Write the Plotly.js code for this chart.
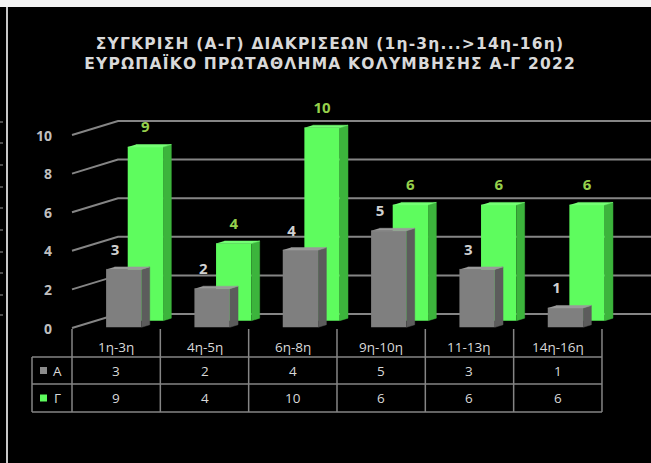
<!DOCTYPE html>
<html>
<head>
<meta charset="utf-8">
<script src="https://cdn.plot.ly/plotly-3.0.1.min.js"></script>
<style>html,body{margin:0;padding:0;background:#000;}#chart{width:651px;height:463px;}
.gtitle{letter-spacing:1.2px;}</style>
</head>
<body>
<div id="chart"></div>
<script>
// ---- data ----
const categories = ['1η-3η', '4η-5η', '6η-8η', '9η-10η', '11-13η', '14η-16η'];
const seriesA = [3, 2, 4, 5, 3, 1];
const seriesG = [9, 4, 10, 6, 6, 6];
const seriesNames = ['Α', 'Γ'];
const yTicks = [0, 2, 4, 6, 8, 10];
const titleLines = ['ΣΥΓΚΡΙΣΗ (Α-Γ) ΔΙΑΚΡΙΣΕΩΝ (1η-3η...>14η-16η)', 'ΕΥΡΩΠΑΪΚΟ ΠΡΩΤΑΘΛΗΜΑ ΚΟΛΥΜΒΗΣΗΣ Α-Γ 2022'];

// ---- geometry / styling ----
const W = 651, H = 463;
const PX_L = 72, UX = 88.33, PY0 = 328, UY = 19.3;
const xd = px => (px - PX_L) / UX - 0.5;
const yd = py => (PY0 - py) / UY;
const yp = py => 1 - py / H;
const DX = 46 / UX, DY = 14 / UY;      // depth vector (data units)
const XL = -0.14, BW = 0.40, BD = 0.18;
const DS_A = 0.05, DS_G = 0.52;
const FONT = 'Open Sans';
const P = (x, v, d) => [x + d * DX, v + d * DY];

function faces(vals, ds) {
  const side = {x: [], y: []}, top = {x: [], y: []};
  vals.forEach((v, i) => {
    const x0 = i + XL, x1 = x0 + BW;
    [P(x1, 0, ds), P(x1, 0, ds + BD), P(x1, v, ds + BD), P(x1, v, ds)].forEach(p => { side.x.push(p[0]); side.y.push(p[1]); });
    side.x.push(null); side.y.push(null);
    [P(x0, v, ds), P(x1, v, ds), P(x1, v, ds + BD), P(x0, v, ds + BD)].forEach(p => { top.x.push(p[0]); top.y.push(p[1]); });
    top.x.push(null); top.y.push(null);
  });
  return {side, top};
}

function seriesTraces(vals, ds, cFront, cSide, cTop, cLabel, labelShift) {
  const idx = vals.map((_, i) => i);
  const f = faces(vals, ds);
  return [
    {type: 'bar', x: idx.map(i => i + XL + BW / 2 + ds * DX), y: vals, base: ds * DY, width: BW,
     marker: {color: cFront, line: {width: 0}}, hoverinfo: 'skip', showlegend: false},
    {type: 'scatter', mode: 'lines', x: f.side.x, y: f.side.y, fill: 'toself', fillcolor: cSide,
     line: {color: cSide, width: 0.5}, hoverinfo: 'skip', showlegend: false},
    {type: 'scatter', mode: 'lines', x: f.top.x, y: f.top.y, fill: 'toself', fillcolor: cTop,
     line: {color: cTop, width: 0.5}, hoverinfo: 'skip', showlegend: false},
    {type: 'scatter', mode: 'text', x: idx.map(i => i + XL + BW / 2 + ds * DX + labelShift),
     y: vals.map(v => v + ds * DY + 0.95), text: vals.map(String), textposition: 'middle center',
     textfont: {family: FONT, size: 15, color: cLabel, weight: 'bold'}, hoverinfo: 'skip', showlegend: false}
  ];
}

const data = [].concat(
  seriesTraces(seriesG, DS_G, '#5efc5e', '#3cb43c', '#74ff74', '#96d04c', 0),
  seriesTraces(seriesA, DS_A, '#7f7f7f', '#5c5c5c', '#9a9a9a', '#d0d0d0', -0.1)
);

const shapes = [];
const annotations = [];
const grid = '#858585';
const n = categories.length;

// gridlines (floor side + back wall)
yTicks.forEach(t => {
  shapes.push({type: 'path', layer: 'below', xref: 'x', yref: 'y',
    path: `M ${-0.5} ${t} L ${-0.5 + DX} ${t + DY} L ${n - 0.5 + DX + 0.05} ${t + DY}`,
    line: {color: grid, width: 2}});
  annotations.push({x: xd(54), y: t, xref: 'x', yref: 'y', text: String(t), showarrow: false,
    xanchor: 'right', yanchor: 'middle', font: {family: FONT, size: 14, color: '#bfbfbf', weight: 'bold'}});
});

// table
const tRows = [357, 384, 412];
const tLeft = xd(32);
for (let k = 0; k <= n; k++) {
  shapes.push({type: 'line', xref: 'x', yref: 'paper', x0: k - 0.5, x1: k - 0.5, y0: yp(329), y1: yp(412),
    line: {color: grid, width: 1.5}});
}
tRows.forEach(r => shapes.push({type: 'line', xref: 'x', yref: 'paper', x0: tLeft, x1: n - 0.5, y0: yp(r), y1: yp(r),
  line: {color: grid, width: 1.5}}));
shapes.push({type: 'line', xref: 'x', yref: 'paper', x0: tLeft, x1: tLeft, y0: yp(357), y1: yp(412), line: {color: grid, width: 1.5}});

const cellFont = {family: FONT, size: 13.5, color: '#d9d9d9'};
categories.forEach((c, i) => {
  annotations.push({x: i, y: yp(347), xref: 'x', yref: 'paper', text: c, showarrow: false, yanchor: 'middle', font: cellFont});
  annotations.push({x: i, y: yp(370.5), xref: 'x', yref: 'paper', text: String(seriesA[i]), showarrow: false, yanchor: 'middle', font: cellFont});
  annotations.push({x: i, y: yp(398), xref: 'x', yref: 'paper', text: String(seriesG[i]), showarrow: false, yanchor: 'middle', font: cellFont});
});
// legend keys in table
[[370.5, '#8c8c8c', seriesNames[0]], [398, '#5efc5e', seriesNames[1]]].forEach(([py, col, name]) => {
  shapes.push({type: 'rect', xref: 'paper', yref: 'paper', x0: 40 / W, x1: 47 / W, y0: yp(py + 3.5), y1: yp(py - 3.5),
    fillcolor: col, line: {width: 0}});
  annotations.push({x: 57 / W, y: yp(py), xref: 'paper', yref: 'paper', text: name, showarrow: false,
    xanchor: 'center', yanchor: 'middle', font: cellFont});
});

// screenshot frame artifacts
shapes.push({type: 'rect', xref: 'paper', yref: 'paper', x0: 0, x1: 1, y0: yp(7), y1: 1, fillcolor: '#f4f4f4', line: {width: 0}});
shapes.push({type: 'line', xref: 'paper', yref: 'paper', x0: 7 / W, x1: 7 / W, y0: 0, y1: yp(7), line: {color: '#c8c8c8', width: 2}});
[122, 143, 165, 187, 208, 230, 252, 273, 295, 315].forEach(py => {
  shapes.push({type: 'line', xref: 'paper', yref: 'paper', x0: 0, x1: 3 / W, y0: yp(py), y1: yp(py), line: {color: '#9a9a9a', width: 1}});
});

const layout = {
  width: W, height: H,
  paper_bgcolor: '#000', plot_bgcolor: '#000',
  margin: {l: 0, r: 0, t: 0, b: 0},
  showlegend: false,
  barmode: 'overlay',
  title: {text: titleLines.join('<br>'), x: 0.507, xanchor: 'center', xref: 'container',
    y: yp(49), yanchor: 'middle', yref: 'container',
    font: {family: 'DejaVu Sans', size: 15.5, color: '#d9d9d9', weight: 'bold'}},
  xaxis: {range: [xd(0), xd(W)], visible: false, fixedrange: true},
  yaxis: {range: [yd(H), yd(0)], visible: false, fixedrange: true},
  shapes, annotations
};

Plotly.newPlot('chart', data, layout, {displayModeBar: false, staticPlot: true});
</script>
</body>
</html>
